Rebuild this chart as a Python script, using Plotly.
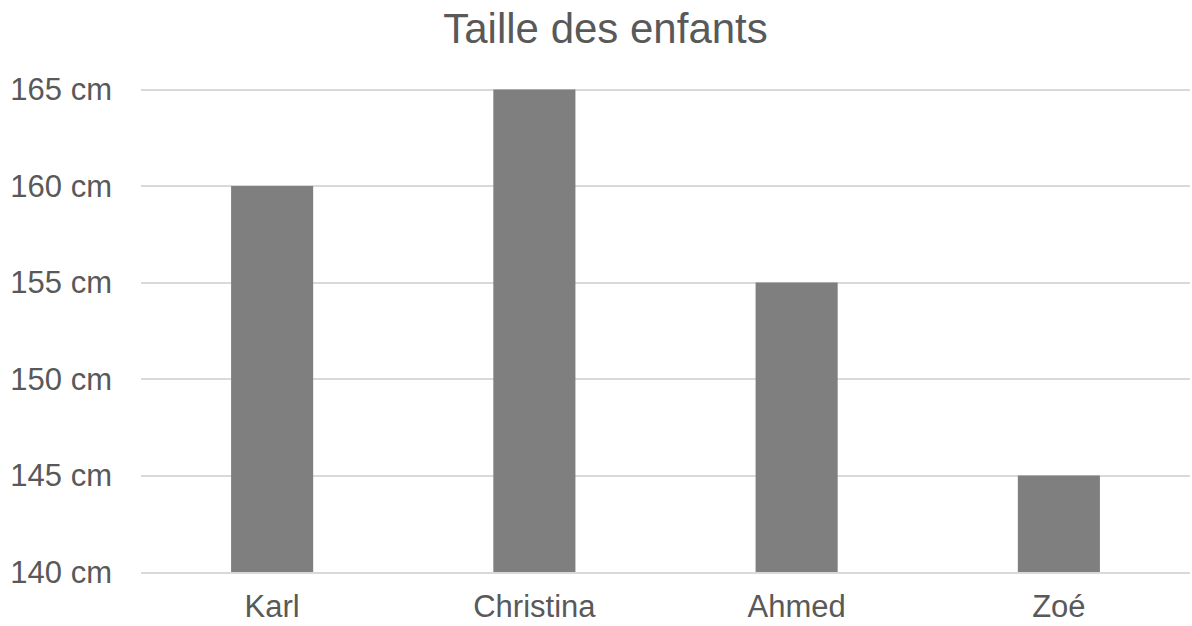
import plotly.graph_objects as go

categories = ["Karl", "Christina", "Ahmed", "Zoé"]
heights = [160, 165, 155, 145]
tick_vals = [140, 145, 150, 155, 160, 165]
tick_text = ["140 cm", "145 cm", "150 cm", "155 cm", "160 cm", "165 cm"]

fig = go.Figure(go.Bar(x=categories, y=heights, marker=dict(color="#7f7f7f", line=dict(width=0))))

fig.update_layout(
    width=1192, height=626,
    margin=dict(l=141, r=2, t=88, b=54),
    paper_bgcolor="white", plot_bgcolor="white",
    font=dict(family="Liberation Sans, Arial", color="#595959", size=31),
    title=dict(text="Taille des enfants", x=0.508, xanchor="center", y=0.955, yanchor="middle",
               font=dict(size=42, color="#595959")),
    bargap=0.687,
    showlegend=False,
)
fig.update_xaxes(showline=True, linecolor="#d9d9d9", linewidth=2, showgrid=False,
                 ticks="", ticklabelstandoff=6, automargin=False)
fig.update_yaxes(range=[140, 165.08], tickvals=tick_vals, ticktext=tick_text,
                 showgrid=True, gridcolor="#d9d9d9", gridwidth=2, zeroline=False,
                 showline=False, ticks="", ticklabelstandoff=28, automargin=False)

fig.write_html("out.html", config={"displayModeBar": False},
               post_script="document.body.style.margin='0';document.body.style.overflow='hidden';")
